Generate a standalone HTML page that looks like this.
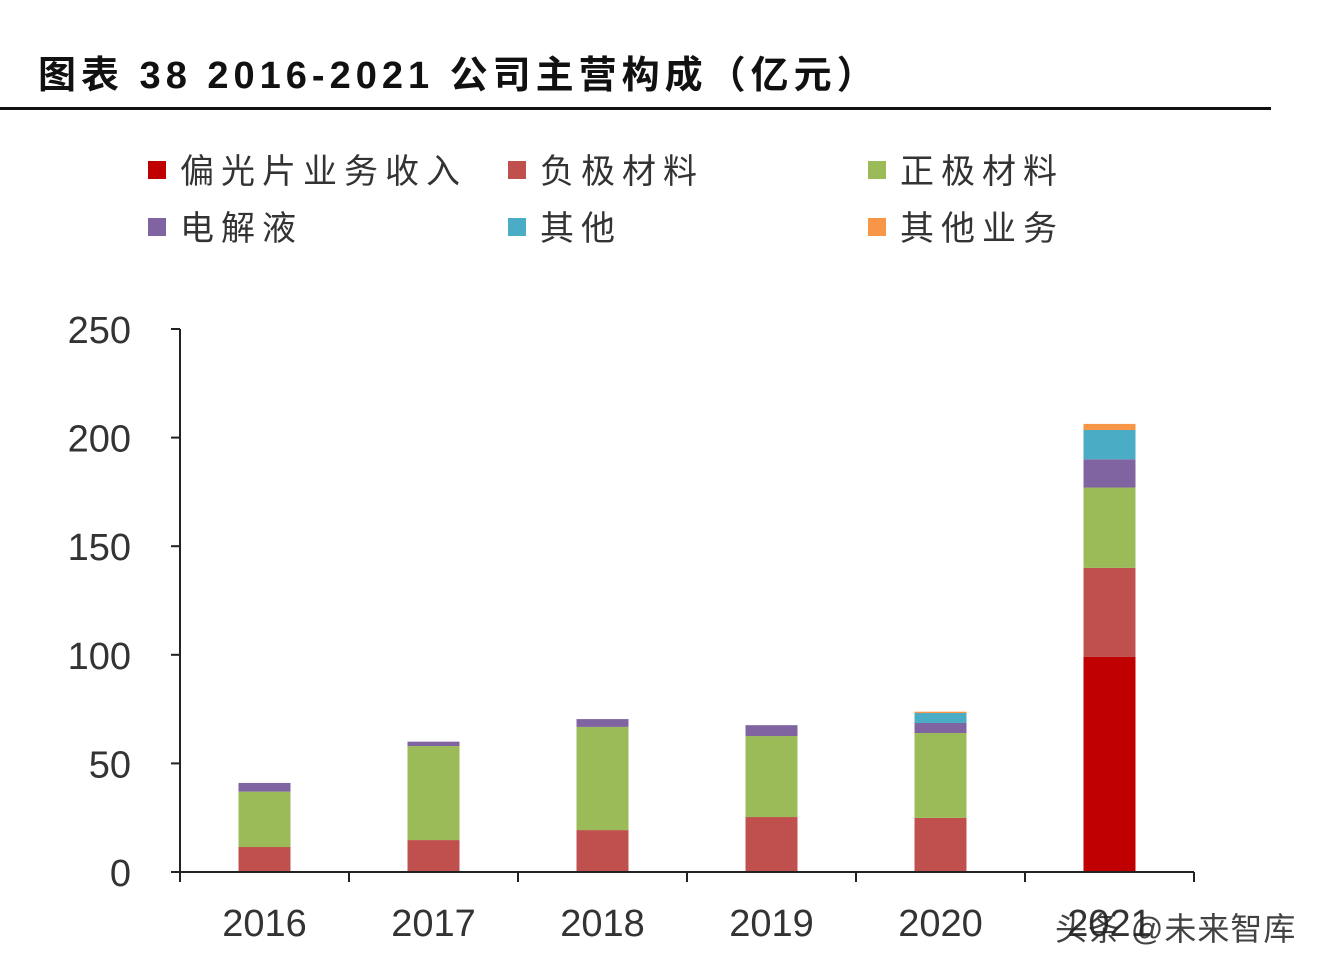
<!DOCTYPE html>
<html><head><meta charset="utf-8"><style>
body{margin:0;background:#fff;width:1326px;height:972px;overflow:hidden;font-family:"Liberation Sans","Noto Sans CJK SC",sans-serif}
</style></head><body>
<svg width="1326" height="972" id="c">
<text x="38" y="88" font-size="38" font-weight="bold" fill="#111" letter-spacing="5" font-family="Liberation Sans, Noto Sans CJK SC, sans-serif">图表 38 2016-2021 公司主营构成（亿元）</text>
<rect x="0" y="107" width="1271" height="3" fill="#111"/>
<g id="legend"></g>
<g id="plot"></g>
<text x="1055" y="940" font-size="32" fill="#222" letter-spacing="1" opacity="0.85">头条 @未来智库</text>
</svg>
<script>
const categories=["2016","2017","2018","2019","2020","2021"];
const polarizer=[0,0,0,0,0,99];
const anode=[11.5,14.7,19.3,25.3,24.9,41];
const cathode=[25.5,43.3,47.5,37.3,39.1,37];
const electrolyte=[4,2,3.6,5,4.6,13];
const other=[0,0,0,0,4.6,13.5];
const otherBiz=[0,0,0,0,0.6,2.8];
const yTicks=[0,50,100,150,200,250];
const seriesNames=["偏光片业务收入","负极材料","正极材料","电解液","其他","其他业务"];
const colors=["#c00000","#c0504d","#9bbb59","#8064a2","#4bacc6","#f79646"];
const series=[polarizer,anode,cathode,electrolyte,other,otherBiz];
const NS="http://www.w3.org/2000/svg";
const x0=180,x1=1194,yBase=872,yTop=329,yMax=250;
const y=v=>yBase-(v/yMax)*(yBase-yTop);
const band=(x1-x0)/categories.length;
const xc=i=>x0+band*(i+0.5);
function mk(tag,attrs,parent){const e=document.createElementNS(NS,tag);for(const k in attrs)e.setAttribute(k,attrs[k]);parent.appendChild(e);return e;}
const plot=document.getElementById('plot');
categories.forEach((c,i)=>{let cum=0;series.forEach((s,j)=>{const v=s[i];if(v<=0)return;const r=mk('rect',{x:xc(i)-26,y:y(cum+v),width:52,height:y(cum)-y(cum+v),fill:colors[j]},plot);


cum+=v;});});
const ya=mk('line',{x1:x0,y1:yTop,x2:x0,y2:yBase,stroke:'#222','stroke-width':2},plot);


const xa=mk('line',{x1:x0,y1:yBase,x2:x1,y2:yBase,stroke:'#222','stroke-width':2},plot);


yTicks.forEach(t=>{mk('line',{x1:x0-9,y1:y(t),x2:x0,y2:y(t),stroke:'#222','stroke-width':2},plot);
const tx=mk('text',{x:131,y:y(t)+14,'font-size':38,fill:'#333','text-anchor':'end'},plot);tx.textContent=t;

});
for(let i=0;i<=categories.length;i++){mk('line',{x1:x0+band*i,y1:yBase,x2:x0+band*i,y2:yBase+10,stroke:'#222','stroke-width':2},plot);}
categories.forEach((c,i)=>{const tx=mk('text',{x:xc(i),y:936,'font-size':38,fill:'#333','text-anchor':'middle'},plot);tx.textContent=c;

});
const lg=document.getElementById('legend');
const lx=[148,508,868],ly=[170,227];
seriesNames.forEach((n,j)=>{const cx=lx[j%3],cy=ly[Math.floor(j/3)];
const g=mk('g',{},lg);


mk('rect',{x:cx,y:cy-9,width:18,height:18,fill:colors[j]},g);
const t=mk('text',{x:cx+32,y:cy+13,'font-size':34,fill:'#333','letter-spacing':7},g);t.textContent=n;});
</script>
</body></html>
